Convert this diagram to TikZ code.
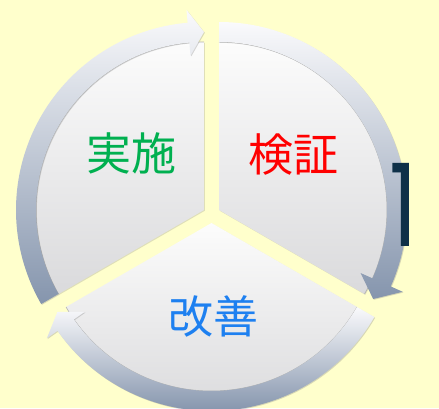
\documentclass[tikz,border=0pt]{standalone}
\usepackage{fontspec}
\usepackage{graphicx}
\newfontfamily\jp{Noto Sans CJK JP}
\newfontfamily\numfont{Poppins}
\usetikzlibrary{shadows}
\definecolor{bgy}{RGB}{255,255,204}
\definecolor{intTop}{RGB}{252,252,252}
\definecolor{intBot}{RGB}{218,218,220}
\definecolor{bandTop}{RGB}{250,250,252}
\definecolor{bandBot}{RGB}{133,149,173}
\definecolor{jgreen}{RGB}{0,176,80}
\definecolor{jred}{RGB}{255,0,0}
\definecolor{jblue}{RGB}{30,128,240}
\definecolor{navy}{RGB}{14,48,72}
\begin{document}
\begin{tikzpicture}[x=1pt,y=1pt,
  interior/.style={top color=intTop, bottom color=intBot,
     drop shadow={opacity=0.25,shadow xshift=0.8pt,shadow yshift=-0.8pt}},
  band/.style={top color=bandTop, bottom color=bandBot,
     drop shadow={opacity=0.3,shadow xshift=0.8pt,shadow yshift=-0.8pt}},
  rimline/.style={draw=black!30, line width=0.6pt},
  lbl/.style={font=\jp\fontsize{45}{54}\selectfont, inner sep=0pt}]
\fill[bgy] (0,0) rectangle (439,408);
\useasboundingbox (0,0) rectangle (439,408);

% left segment (実施)
\begin{scope}[shift={(204,198)}]
  \path[interior] (0,0) -- (90:168) arc[start angle=90,end angle=210,radius=168] -- cycle;
  \draw[rimline] (90:168) arc[start angle=90,end angle=210,radius=168];
  \path[band] (210:188) arc[start angle=210,end angle=95,radius=188]
     -- (95:201) -- (90:178) -- (95:155) -- (95:168)
     arc[start angle=95,end angle=210,radius=168] -- cycle;
\end{scope}

% right segment (検証)
\begin{scope}[shift={(219,198)}]
  \path[interior] (0,0) -- (90:168) arc[start angle=90,end angle=-30,radius=168] -- cycle;
  \draw[rimline] (90:168) arc[start angle=90,end angle=-30,radius=168];
  \path[band] (90:188) arc[start angle=90,end angle=-24,radius=188]
     -- (-24:201) -- (-30:178) -- (-24:155) -- (-24:168)
     arc[start angle=-24,end angle=90,radius=168] -- cycle;
\end{scope}

% bottom segment (改善)
\begin{scope}[shift={(211.5,185)}]
  \path[interior] (0,0) -- (-30:168) arc[start angle=-30,end angle=-150,radius=168] -- cycle;
  \draw[rimline] (-30:168) arc[start angle=-30,end angle=-150,radius=168];
  \path[band] (-30:188) arc[start angle=-30,end angle=-145,radius=188]
     -- (-145:201) -- (-150:178) -- (-145:155) -- (-145:168)
     arc[start angle=-145,end angle=-30,radius=168] -- cycle;
\end{scope}

\node[lbl, text=jgreen] (jisshi) at (131,255) {実施};
\node[lbl, text=jred] (kensho) at (293,253) {検証};
\node[lbl, text=jblue] (kaizen) at (213,92) {改善};
\node[inner sep=0pt, text=navy] (one) at (403.5,203)
  {\scalebox{0.77}[1]{\numfont\fontsize{115}{120}\selectfont 1}};
\end{tikzpicture}
\end{document}
